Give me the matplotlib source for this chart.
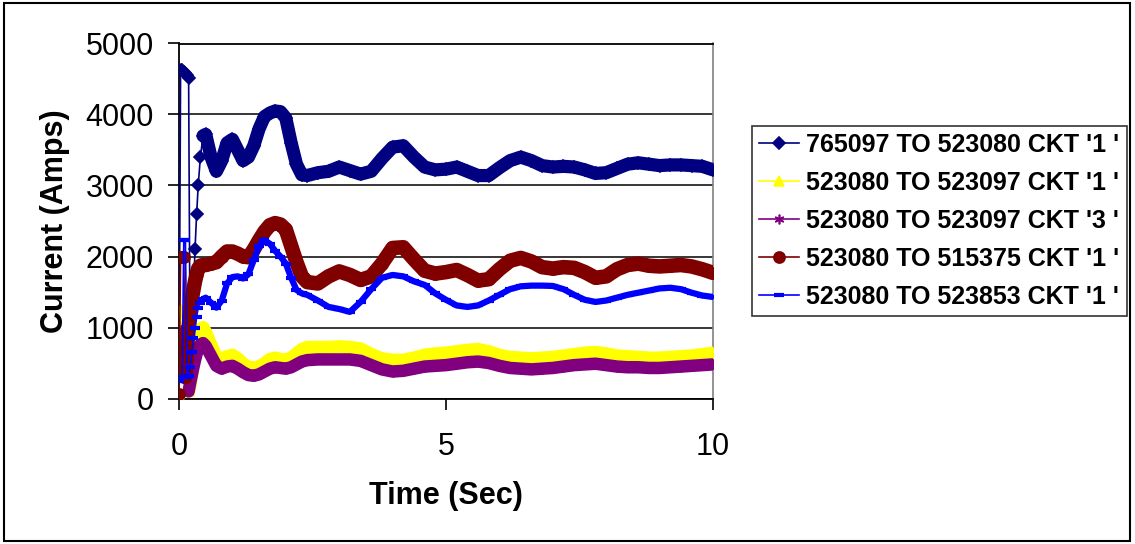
import matplotlib
matplotlib.use("Agg")
import matplotlib.pyplot as plt
import numpy as np
from matplotlib.patches import Rectangle

plt.rcParams["font.family"] = ["Liberation Sans", "DejaVu Sans"]

# time axis (sec), fine steps during the fault, coarser later
time_s = [0.0, 0.03, 0.06, 0.09, 0.12, 0.15, 0.18, 0.21, 0.24, 0.27, 0.30, 0.33,
          0.36, 0.40, 0.45, 0.50, 0.6, 0.7, 0.8, 0.9, 1.0, 1.1, 1.2, 1.3, 1.4,
          1.5, 1.6, 1.7, 1.8, 1.9, 2.0, 2.1, 2.2, 2.3, 2.4, 2.6, 2.8, 3.0, 3.2,
          3.4, 3.6, 3.8, 4.0, 4.2, 4.4, 4.6, 4.8, 5.0, 5.2, 5.4, 5.6, 5.8, 6.0,
          6.2, 6.4, 6.6, 6.8, 7.0, 7.2, 7.4, 7.6, 7.8, 8.0, 8.2, 8.4, 8.6, 8.8,
          9.0, 9.2, 9.4, 9.6, 9.8, 10.0]

labels = ["765097 TO 523080 CKT '1 '",
          "523080 TO 523097 CKT '1 '",
          "523080 TO 523097 CKT '3 '",
          "523080 TO 515375 CKT '1 '",
          "523080 TO 523853 CKT '1 '"]

amps_765097_523080 = [30, 4630, 4630, 4600, 4580, 4550, 4520, 300, 900, 1500, 2100, 2600,
                      3000, 3400, 3700, 3720, 3400, 3200, 3350, 3600, 3650, 3500, 3350,
                      3400, 3560, 3800, 3970, 4020, 4050, 4040, 3950, 3600, 3300, 3150,
                      3140, 3180, 3200, 3260, 3210, 3160, 3200, 3380, 3540, 3560, 3400,
                      3260, 3220, 3230, 3260, 3200, 3140, 3140, 3250, 3350, 3400, 3350,
                      3280, 3260, 3270, 3260, 3220, 3170, 3180, 3240, 3300, 3320, 3300,
                      3280, 3290, 3290, 3280, 3270, 3220]

amps_523080_523097_1 = [60, 1250, 1250, 1230, 1200, 1150, 100, 200, 350, 500, 650, 790,
                        900, 970, 1000, 930, 750, 590, 550, 590, 610, 560, 490, 440, 430,
                        450, 490, 550, 570, 550, 540, 570, 630, 690, 720, 720, 720, 730,
                        720, 700, 620, 560, 540, 540, 570, 610, 630, 640, 660, 680, 690,
                        660, 610, 580, 570, 560, 570, 580, 600, 620, 640, 650, 630, 600,
                        590, 580, 570, 570, 580, 590, 600, 620, 640]

amps_523080_523097_3 = [60, 960, 960, 950, 940, 930, 100, 220, 330, 440, 540, 630,
                        700, 760, 780, 740, 600, 460, 420, 450, 460, 420, 370, 330, 320,
                        340, 380, 420, 440, 430, 420, 440, 480, 520, 540, 550, 550, 550,
                        550, 530, 470, 410, 380, 390, 420, 450, 460, 470, 490, 510, 520,
                        500, 460, 430, 420, 410, 420, 430, 450, 470, 480, 490, 470, 450,
                        440, 440, 430, 430, 440, 450, 460, 470, 480]

amps_523080_515375 = [60, 2000, 2000, 1990, 300, 700, 1000, 1200, 1400, 1530, 1650, 1750,
                      1830, 1870, 1880, 1880, 1900, 1920, 2000, 2070, 2070, 2040, 2000,
                      1990, 2100, 2230, 2350, 2440, 2470, 2450, 2380, 2150, 1920, 1720,
                      1640, 1620, 1720, 1790, 1740, 1670, 1720, 1900, 2120, 2130, 1960,
                      1800, 1760, 1780, 1810, 1740, 1660, 1680, 1820, 1940, 1980, 1930,
                      1850, 1830, 1850, 1840, 1780, 1700, 1720, 1820, 1880, 1900, 1870,
                      1860, 1870, 1880, 1860, 1820, 1770]

amps_523080_523853 = [250, 300, 300, 2230, 2230, 300, 320, 450, 650, 850, 1000, 1150,
                      1280, 1350, 1400, 1420, 1350, 1280, 1380, 1620, 1710, 1720, 1690,
                      1750, 1950, 2150, 2230, 2180, 2080, 2000, 1900, 1700, 1530, 1480,
                      1460, 1380, 1290, 1260, 1220, 1360, 1540, 1700, 1740, 1720, 1650,
                      1600, 1480, 1390, 1310, 1290, 1310, 1380, 1460, 1540, 1580, 1590,
                      1590, 1585, 1540, 1460, 1390, 1360, 1380, 1420, 1460, 1490, 1520,
                      1550, 1560, 1540, 1490, 1450, 1430]

series = [amps_765097_523080, amps_523080_523097_1, amps_523080_523097_3,
          amps_523080_515375, amps_523080_523853]

# style per series: colour, marker, marker size, band width, band start time
styles = [
    dict(color="#000080", marker="D", ms=6, band=9.5, start=0.45),
    dict(color="#FFFF00", marker="^", ms=7, band=9.5, start=0.18),
    dict(color="#800080", marker=(6, 2, 0), ms=7, band=9.0, start=0.18),
    dict(color="#800000", marker="o", ms=8, band=10.5, start=0.12),
    dict(color="#0000FF", marker="_", ms=7, band=4.5, start=0.45),
]

fig = plt.figure(figsize=(11.35, 5.44), dpi=100)
ax = fig.add_axes([179 / 1135, 1 - 398.5 / 544, 534 / 1135, 355 / 544])

t = np.array(time_s)
for vals, lab, st in zip(series, labels, styles):
    v = np.array(vals)
    keep = t >= st["start"]
    ax.plot(t[keep], v[keep], color=st["color"], lw=st["band"],
            solid_capstyle="round", solid_joinstyle="round", zorder=3)
    ax.plot(t, v, color=st["color"], lw=1.2, marker=st["marker"], ms=st["ms"],
            mew=3 if st["marker"] == "_" else 1.2, label=lab, zorder=3)

ax.set_xlim(0, 10)
ax.set_ylim(0, 5000)
ax.set_xticks([0, 5, 10])
ax.set_yticks(range(0, 5001, 1000))
ax.yaxis.grid(True, color="#000000", lw=1.1)
ax.set_axisbelow(True)
ax.tick_params(labelsize=22, length=8, width=1.2, direction="out", color="black")
ax.tick_params(axis="y", pad=10)
ax.tick_params(axis="x", pad=16)
for side in ("left", "bottom", "top"):
    ax.spines[side].set_linewidth(1.3)
ax.spines["right"].set_color("#808080")
ax.spines["right"].set_linewidth(1.2)

ax.set_xlabel("Time (Sec)", fontsize=22, fontweight="bold", va="center")
ax.xaxis.set_label_coords(0.5, (398.5 - 496) / 355)
ax.set_ylabel("Current (Amps)", fontsize=22, fontweight="bold", va="center")
ax.yaxis.set_label_coords((55 - 179) / 534, 0.5)

leg = ax.legend(loc="upper left", bbox_to_anchor=(752 / 1135, 1 - 126 / 544),
                bbox_transform=fig.transFigure, prop=dict(size=18.0, weight="bold"),
                frameon=True, fancybox=False, edgecolor="black", numpoints=1,
                handlelength=1.6, handletextpad=0.3, labelspacing=0.56,
                borderpad=0.28, borderaxespad=0)
leg.get_frame().set_linewidth(1.2)
for h in leg.legend_handles:
    h.set_linewidth(1.2)

fig.patches.append(Rectangle((4 / 1135, 3 / 544), 1126 / 1135, 538 / 544,
                             transform=fig.transFigure, fill=False,
                             edgecolor="black", lw=1.5))

fig.savefig("out.png", dpi=100)
